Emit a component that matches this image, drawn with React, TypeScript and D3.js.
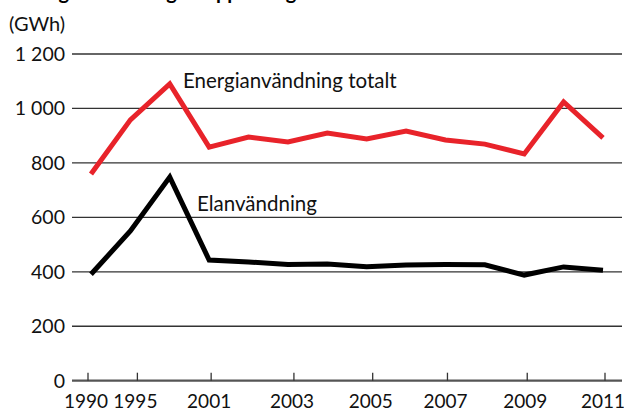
import React from "react";
import * as d3 from "d3";

const years = ["1990", "1995", "2000", "2001", "2002", "2003", "2004", "2005", "2006", "2007", "2008", "2009", "2010", "2011"];
const totalEnergy = [759, 958, 1090, 858, 895, 877, 910, 888, 917, 884, 869, 833, 1024, 892];
const electricity = [391, 550, 748, 443, 436, 427, 429, 419, 425, 427, 426, 388, 418, 406];
const yTicks = [0, 200, 400, 600, 800, 1000, 1200];
const yTickLabels = ["0", "200", "400", "600", "800", "1 000", "1 200"];
const xTickYears = ["1990", "1995", "2001", "2003", "2005", "2007", "2009", "2011"];
const seriesNames = ["Energianvändning totalt", "Elanvändning"];
const title = "Energianvändning i Kopparbergs kommun";
const unit = "(GWh)";

// small layout nudges for the crowded first tick labels
const tickNudge: Record<string, number> = { "1990": -3, "1995": 7, "2001": 2, "2003": 6, "2005": 6, "2007": 2, "2009": 3, "2011": 2 };

export default function App() {
  const W = 624, H = 411;
  const x = d3.scalePoint<string>().domain(years).range([91, 603]);
  const y = d3.scaleLinear().domain([0, 1200]).range([380.7, 54]);
  const line = d3.line<number>().x((_, i) => x(years[i])!).y((d) => y(d));
  const font = "Lato, 'Open Sans', sans-serif";
  return (
    <svg width={W} height={H} style={{ position: "absolute", left: 0, top: 0, background: "#fff" }} fontFamily={font}>
      <text x={18} y={-1} fontSize={20} fontWeight="bold" fill="#000">{title}</text>
      <text x={9} y={31} fontSize={20} fill="#111">{unit}</text>
      {yTicks.map((t, i) => (
        <g key={t}>
          <line x1={72} x2={622} y1={y(t)} y2={y(t)} stroke={t === 0 ? "#555" : "#333"} strokeWidth={t === 0 ? 2.2 : 1.3} />
          <text x={65} y={y(t)} dy="0.36em" textAnchor="end" fontSize={19.5} fill="#111">{yTickLabels[i]}</text>
        </g>
      ))}
      {xTickYears.map((yr) => {
        const tx = x(yr)! + (tickNudge[yr] || 0);
        return (
          <g key={yr}>
            <line x1={tx} x2={tx} y1={y(0)} y2={y(0) - 8} stroke="#333" strokeWidth={1.3} />
            <text x={tx - 2} y={408} textAnchor="middle" fontSize={19} fill="#111">{yr}</text>
          </g>
        );
      })}
      <path d={line(totalEnergy)!} fill="none" stroke="#e8232a" strokeWidth={5} strokeLinejoin="miter" />
      <path d={line(electricity)!} fill="none" stroke="#000" strokeWidth={5} strokeLinejoin="miter" />
      <text x={183} y={88} fontSize={20.5} fill="#111">{seriesNames[0]}</text>
      <text x={197} y={211} fontSize={20.5} fill="#111">{seriesNames[1]}</text>
    </svg>
  );
}
